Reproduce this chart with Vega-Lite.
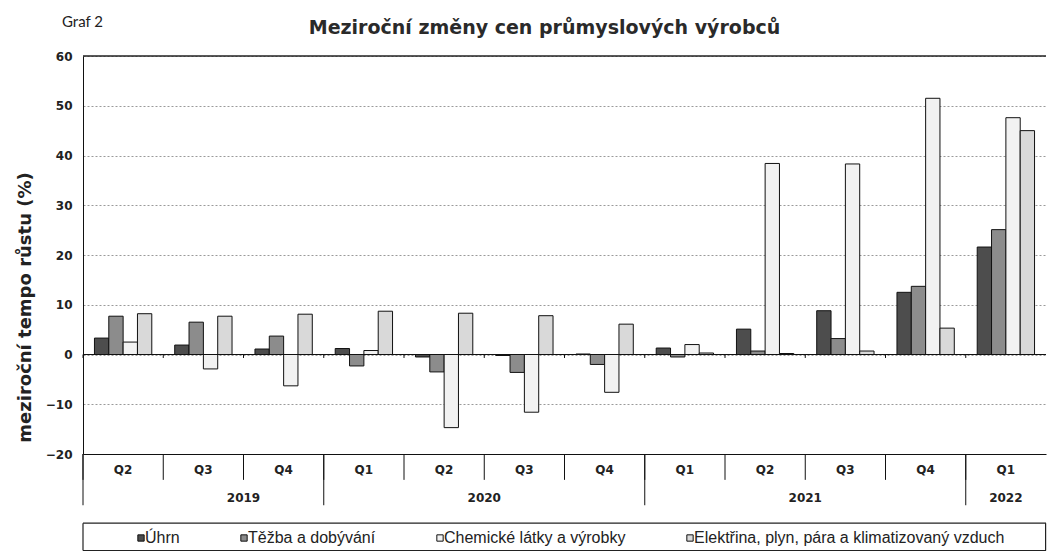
{
  "$schema": "https://vega.github.io/schema/vega-lite/v6.json",
  "width": 963,
  "height": 398,
  "autosize": "none",
  "padding": {"left": 83, "top": 56, "right": 1, "bottom": 98},
  "background": "white",
  "title": {
    "text": "Meziroční změny cen průmyslových výrobců",
    "font": "DejaVu Sans",
    "fontSize": 19,
    "fontWeight": "bold",
    "color": "#2a2a2a",
    "anchor": "middle",
    "frame": "group",
    "dx": -20,
    "baseline": "alphabetic",
    "offset": -38
  },
  "config": {
    "view": {"stroke": null},
    "axis": {"labelColor": "#222", "titleColor": "#222"}
  },
  "datasets": {
    "bars": [
      {"period": "2019-Q2", "series": "Úhrn", "value": 3.3},
      {"period": "2019-Q2", "series": "Těžba a dobývání", "value": 7.7},
      {"period": "2019-Q2", "series": "Chemické látky a výrobky", "value": 2.5},
      {"period": "2019-Q2", "series": "Elektřina, plyn, pára a klimatizovaný vzduch", "value": 8.2},
      {"period": "2019-Q3", "series": "Úhrn", "value": 1.9},
      {"period": "2019-Q3", "series": "Těžba a dobývání", "value": 6.5},
      {"period": "2019-Q3", "series": "Chemické látky a výrobky", "value": -2.9},
      {"period": "2019-Q3", "series": "Elektřina, plyn, pára a klimatizovaný vzduch", "value": 7.7},
      {"period": "2019-Q4", "series": "Úhrn", "value": 1.1},
      {"period": "2019-Q4", "series": "Těžba a dobývání", "value": 3.7},
      {"period": "2019-Q4", "series": "Chemické látky a výrobky", "value": -6.3},
      {"period": "2019-Q4", "series": "Elektřina, plyn, pára a klimatizovaný vzduch", "value": 8.1},
      {"period": "2020-Q1", "series": "Úhrn", "value": 1.2},
      {"period": "2020-Q1", "series": "Těžba a dobývání", "value": -2.3},
      {"period": "2020-Q1", "series": "Chemické látky a výrobky", "value": 0.8},
      {"period": "2020-Q1", "series": "Elektřina, plyn, pára a klimatizovaný vzduch", "value": 8.7},
      {"period": "2020-Q2", "series": "Úhrn", "value": -0.5},
      {"period": "2020-Q2", "series": "Těžba a dobývání", "value": -3.5},
      {"period": "2020-Q2", "series": "Chemické látky a výrobky", "value": -14.7},
      {"period": "2020-Q2", "series": "Elektřina, plyn, pára a klimatizovaný vzduch", "value": 8.3},
      {"period": "2020-Q3", "series": "Úhrn", "value": -0.2},
      {"period": "2020-Q3", "series": "Těžba a dobývání", "value": -3.6},
      {"period": "2020-Q3", "series": "Chemické látky a výrobky", "value": -11.6},
      {"period": "2020-Q3", "series": "Elektřina, plyn, pára a klimatizovaný vzduch", "value": 7.8},
      {"period": "2020-Q4", "series": "Úhrn", "value": 0.1},
      {"period": "2020-Q4", "series": "Těžba a dobývání", "value": -2.0},
      {"period": "2020-Q4", "series": "Chemické látky a výrobky", "value": -7.6},
      {"period": "2020-Q4", "series": "Elektřina, plyn, pára a klimatizovaný vzduch", "value": 6.1},
      {"period": "2021-Q1", "series": "Úhrn", "value": 1.3},
      {"period": "2021-Q1", "series": "Těžba a dobývání", "value": -0.5},
      {"period": "2021-Q1", "series": "Chemické látky a výrobky", "value": 2.0},
      {"period": "2021-Q1", "series": "Elektřina, plyn, pára a klimatizovaný vzduch", "value": 0.3},
      {"period": "2021-Q2", "series": "Úhrn", "value": 5.1},
      {"period": "2021-Q2", "series": "Těžba a dobývání", "value": 0.7},
      {"period": "2021-Q2", "series": "Chemické látky a výrobky", "value": 38.4},
      {"period": "2021-Q2", "series": "Elektřina, plyn, pára a klimatizovaný vzduch", "value": 0.2},
      {"period": "2021-Q3", "series": "Úhrn", "value": 8.8},
      {"period": "2021-Q3", "series": "Těžba a dobývání", "value": 3.2},
      {"period": "2021-Q3", "series": "Chemické látky a výrobky", "value": 38.3},
      {"period": "2021-Q3", "series": "Elektřina, plyn, pára a klimatizovaný vzduch", "value": 0.7},
      {"period": "2021-Q4", "series": "Úhrn", "value": 12.5},
      {"period": "2021-Q4", "series": "Těžba a dobývání", "value": 13.7},
      {"period": "2021-Q4", "series": "Chemické látky a výrobky", "value": 51.5},
      {"period": "2021-Q4", "series": "Elektřina, plyn, pára a klimatizovaný vzduch", "value": 5.3},
      {"period": "2022-Q1", "series": "Úhrn", "value": 21.6},
      {"period": "2022-Q1", "series": "Těžba a dobývání", "value": 25.1},
      {"period": "2022-Q1", "series": "Chemické látky a výrobky", "value": 47.6},
      {"period": "2022-Q1", "series": "Elektřina, plyn, pára a klimatizovaný vzduch", "value": 45.0}
    ],
    "yearBounds": [
      {"period": "2019-Q2"},
      {"period": "2020-Q1"},
      {"period": "2021-Q1"},
      {"period": "2022-Q1"}
    ],
    "yearsAtBoundary": [
      {"period": "2019-Q4", "year": "2019"},
      {"period": "2020-Q3", "year": "2020"},
      {"period": "2021-Q3", "year": "2021"}
    ],
    "yearsCentered": [
      {"period": "2022-Q1", "year": "2022"}
    ],
    "note": [{"label": "Graf 2"}]
  },
  "layer": [
    {
      "data": {"name": "bars"},
      "mark": {"type": "bar", "stroke": "#111", "strokeWidth": 1},
      "encoding": {
        "x": {
          "field": "period",
          "type": "nominal",
          "scale": {
            "domain": ["2019-Q2", "2019-Q3", "2019-Q4", "2020-Q1", "2020-Q2", "2020-Q3", "2020-Q4", "2021-Q1", "2021-Q2", "2021-Q3", "2021-Q4", "2022-Q1"],
            "paddingInner": 0,
            "paddingOuter": 0
          },
          "axis": {
            "title": null,
            "labelAngle": 0,
            "labelExpr": "substring(datum.value, 5)",
            "domain": true,
            "domainColor": "#111",
            "domainWidth": 1,
            "ticks": false,
            "labelPadding": 10,
            "labelFont": "DejaVu Sans",
            "labelFontSize": 12,
            "labelFontWeight": "bold"
          }
        },
        "xOffset": {
          "field": "series",
          "type": "nominal",
          "sort": ["Úhrn", "Těžba a dobývání", "Chemické látky a výrobky", "Elektřina, plyn, pára a klimatizovaný vzduch"],
          "scale": {"paddingInner": 0, "paddingOuter": 0.8}
        },
        "y": {
          "field": "value",
          "type": "quantitative",
          "scale": {"domain": [-20, 60], "nice": false, "zero": false},
          "axis": {
            "title": "meziroční tempo růstu (%)",
            "titleFont": "DejaVu Sans",
            "titleFontSize": 18,
            "titleFontWeight": "bold",
            "titleAngle": 270,
            "titleAlign": "center",
            "titleBaseline": "middle",
            "titleX": -58,
            "titleY": 251,
            "values": [-20, -10, 0, 10, 20, 30, 40, 50, 60],
            "domain": true,
            "domainColor": "#111",
            "ticks": false,
            "labelPadding": 11,
            "labelFont": "DejaVu Sans",
            "labelFontSize": 12,
            "labelFontWeight": "bold",
            "grid": true,
            "gridColor": "#9a9a9a",
            "gridDash": [2, 2],
            "gridWidth": 1
          }
        },
        "color": {
          "field": "series",
          "type": "nominal",
          "sort": ["Úhrn", "Těžba a dobývání", "Chemické látky a výrobky", "Elektřina, plyn, pára a klimatizovaný vzduch"],
          "scale": {
            "domain": ["Úhrn", "Těžba a dobývání", "Chemické látky a výrobky", "Elektřina, plyn, pára a klimatizovaný vzduch"],
            "range": ["#4d4d4d", "#8c8c8c", "#f2f2f2", "#d9d9d9"]
          },
          "legend": {
            "title": null,
            "orient": "none",
            "legendX": 50,
            "legendY": 474,
            "direction": "horizontal",
            "columns": 4,
            "columnPadding": 56,
            "padding": 0,
            "symbolType": "square",
            "symbolSize": 40,
            "symbolStrokeColor": "#111",
            "symbolStrokeWidth": 1,
            "labelFont": "Liberation Sans",
            "labelFontSize": 16,
            "labelColor": "#222",
            "labelOffset": -4,
            "labelLimit": 400
          }
        }
      }
    },
    {
      "data": {"values": [{}]},
      "mark": {"type": "rule", "color": "#111", "strokeWidth": 1},
      "encoding": {"y": {"datum": 0}}
    },
    {
      "data": {"values": [{}]},
      "mark": {"type": "rule", "color": "#222", "strokeWidth": 1.3},
      "encoding": {"y": {"datum": 60}}
    },
    {
      "data": {"name": "bars"},
      "transform": [{"filter": "datum.series === 'Úhrn'"}],
      "mark": {"type": "rule", "color": "#111", "strokeWidth": 1},
      "encoding": {
        "x": {"field": "period", "type": "nominal", "bandPosition": 0},
        "y": {"datum": 0},
        "y2": {"datum": -0.7}
      }
    },
    {
      "data": {"name": "bars"},
      "transform": [{"filter": "datum.series === 'Úhrn'"}],
      "mark": {"type": "rule", "color": "#111", "strokeWidth": 1},
      "encoding": {
        "x": {"field": "period", "type": "nominal", "bandPosition": 0},
        "y": {"datum": -20},
        "y2": {"datum": -25.2}
      }
    },
    {
      "data": {"name": "yearBounds"},
      "mark": {"type": "rule", "color": "#111", "strokeWidth": 1},
      "encoding": {
        "x": {"field": "period", "type": "nominal", "bandPosition": 0},
        "y": {"datum": -20},
        "y2": {"datum": -30.3}
      }
    },
    {
      "data": {"name": "yearsAtBoundary"},
      "mark": {"type": "text", "font": "DejaVu Sans", "fontSize": 12, "fontWeight": "bold", "color": "#222", "baseline": "middle", "align": "center"},
      "encoding": {
        "x": {"field": "period", "type": "nominal", "bandPosition": 0},
        "y": {"datum": -28.8},
        "text": {"field": "year"}
      }
    },
    {
      "data": {"name": "yearsCentered"},
      "mark": {"type": "text", "font": "DejaVu Sans", "fontSize": 12, "fontWeight": "bold", "color": "#222", "baseline": "middle", "align": "center"},
      "encoding": {
        "x": {"field": "period", "type": "nominal", "bandPosition": 0.5},
        "y": {"datum": -28.8},
        "text": {"field": "year"}
      }
    },
    {
      "data": {"values": [{}]},
      "mark": {"type": "rule", "color": "#222", "strokeWidth": 1.2},
      "encoding": {"y": {"datum": -33.9}}
    },
    {
      "data": {"values": [{}]},
      "mark": {"type": "rule", "color": "#222", "strokeWidth": 1},
      "encoding": {"y": {"datum": -39.4}}
    },
    {
      "data": {"values": [{"period": "2019-Q2"}]},
      "mark": {"type": "rule", "color": "#222", "strokeWidth": 1.2},
      "encoding": {
        "x": {"field": "period", "type": "nominal", "bandPosition": 0},
        "y": {"datum": -33.9},
        "y2": {"datum": -39.4}
      }
    },
    {
      "data": {"values": [{"period": "2022-Q1"}]},
      "mark": {"type": "rule", "color": "#222", "strokeWidth": 1.2},
      "encoding": {
        "x": {"field": "period", "type": "nominal", "bandPosition": 0.995},
        "y": {"datum": -33.9},
        "y2": {"datum": -39.4}
      }
    },
    {
      "data": {"name": "note"},
      "mark": {"type": "text", "font": "Lato", "fontSize": 15, "color": "#222", "align": "left", "baseline": "alphabetic", "dx": -21, "dy": -29},
      "encoding": {
        "x": {"datum": "2019-Q2", "bandPosition": 0},
        "y": {"datum": 60},
        "text": {"field": "label"}
      }
    }
  ]
}
